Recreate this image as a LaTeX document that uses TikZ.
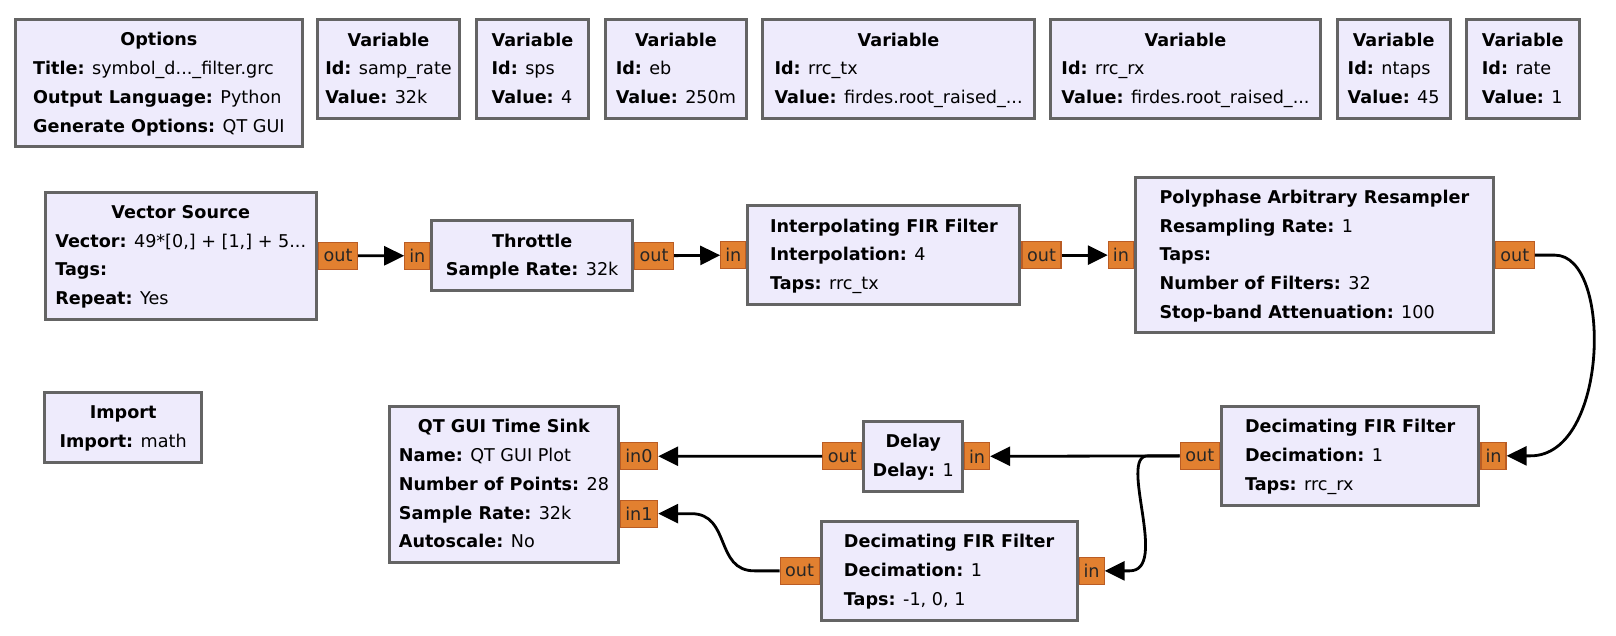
\documentclass[tikz,border=0pt]{standalone}
\usepackage{fontspec}
\setmainfont{DejaVu Sans}
\usetikzlibrary{positioning,arrows.meta}

\definecolor{blockbg}{RGB}{238,235,252}
\definecolor{blockline}{RGB}{100,100,100}
\definecolor{portbg}{RGB}{226,128,48}
\definecolor{portline}{RGB}{186,92,36}

\newcommand{\blk}[2]{\begin{tabular}{@{}l@{}}\multicolumn{1}{@{}c@{}}{\textbf{#1}}\\#2\end{tabular}}
\newcommand{\prm}[2]{\textbf{#1:} #2}

\begin{document}
\begin{tikzpicture}[x=0.5pt,y=-0.5pt,
  font=\fontsize{8.8pt}{14.35pt}\selectfont,
  block/.style={draw=blockline,line width=1.5pt,fill=blockbg,inner sep=0pt,anchor=north west},
  port/.style={draw=portline,line width=0.6pt,fill=portbg,inner sep=0pt,minimum height=13.5pt,text=black!85},
  wire/.style={line width=1.4pt,-{Triangle[length=10pt,width=9.5pt]}}]
  \useasboundingbox (0,0) rectangle (1616,636);

  \node[block,minimum width=143.1pt,minimum height=63.5pt] (opts) at (14.3,18.3)
    {\blk{Options}{\prm{Title}{symbol\_d...\_filter.grc}\\\prm{Output Language}{Python}\\\prm{Generate Options}{QT GUI}}};
  \node[block,minimum width=71pt,minimum height=49.35pt] (vsamp) at (316,18.3)
    {\blk{Variable}{\prm{Id}{samp\_rate}\\\prm{Value}{32k}}};
  \node[block,minimum width=56pt,minimum height=49.35pt] (vsps) at (475,18.3)
    {\blk{Variable}{\prm{Id}{sps}\\\prm{Value}{4}}};
  \node[block,minimum width=70.8pt,minimum height=49.35pt] (veb) at (603.6,18.3)
    {\blk{Variable}{\prm{Id}{eb}\\\prm{Value}{250m}}};
  \node[block,minimum width=135.65pt,minimum height=49.35pt] (vrrctx) at (761.4,18.3)
    {\blk{Variable}{\prm{Id}{rrc\_tx}\\\prm{Value}{firdes.root\_raised\_...}}};
  \node[block,minimum width=135pt,minimum height=49.35pt] (vrrcrx) at (1049,18.3)
    {\blk{Variable}{\prm{Id}{rrc\_rx}\\\prm{Value}{firdes.root\_raised\_...}}};
  \node[block,minimum width=56.45pt,minimum height=49.35pt] (vntaps) at (1335.7,18.3)
    {\blk{Variable}{\prm{Id}{ntaps}\\\prm{Value}{45}}};
  \node[block,minimum width=56.65pt,minimum height=49.35pt] (vrate) at (1464.6,18.3)
    {\blk{Variable}{\prm{Id}{rate}\\\prm{Value}{1}}};

  \node[block,minimum width=135.65pt,minimum height=63.5pt] (vec) at (43.6,190.7)
    {\blk{Vector Source}{\prm{Vector}{49*[0,] + [1,] + 5...}\\\prm{Tags}{}\\\prm{Repeat}{Yes}}};
  \node[block,minimum width=100.3pt,minimum height=35pt] (thr) at (430.4,219.3)
    {\blk{Throttle}{\prm{Sample Rate}{32k}}};
  \node[block,minimum width=136pt,minimum height=49.35pt] (interp) at (746.4,204.3)
    {\blk{Interpolating FIR Filter}{\prm{Interpolation}{4}\\\prm{Taps}{rrc\_tx}}};
  \node[block,minimum width=178.85pt,minimum height=77.65pt] (poly) at (1134,176)
    {\blk{Polyphase Arbitrary Resampler}{\prm{Resampling Rate}{1}\\\prm{Taps}{}\\\prm{Number of Filters}{32}\\\prm{Stop-band Attenuation}{100}}};

  \node[block,minimum width=78.35pt,minimum height=35.3pt] (imp) at (43.3,390.7)
    {\blk{Import}{\prm{Import}{math}}};
  \node[block,minimum width=114.1pt,minimum height=78.15pt] (sink) at (388.4,405)
    {\blk{QT GUI Time Sink}{\prm{Name}{QT GUI Plot}\\\prm{Number of Points}{28}\\\prm{Sample Rate}{32k}\\\prm{Autoscale}{No}}};
  \node[block,minimum width=49.3pt,minimum height=34.85pt] (delay) at (862.4,420)
    {\blk{Delay}{\prm{Delay}{1}}};
  \node[block,minimum width=128.75pt,minimum height=49.35pt] (dec1) at (1219.9,405)
    {\blk{Decimating FIR Filter}{\prm{Decimation}{1}\\\prm{Taps}{rrc\_rx}}};
  \node[block,minimum width=127.9pt,minimum height=49.35pt] (dec2) at (819.7,520)
    {\blk{Decimating FIR Filter}{\prm{Decimation}{1}\\\prm{Taps}{-1, 0, 1}}};

  \node[port,minimum width=19.5pt,right=0pt of vec] (vecout) {out};
  \node[port,minimum width=12.5pt,left=0pt of thr] (thrin) {in};
  \node[port,minimum width=19.5pt,right=0pt of thr] (throut) {out};
  \node[port,minimum width=12.5pt,left=0pt of interp] (interpin) {in};
  \node[port,minimum width=19.5pt,right=0pt of interp] (interpout) {out};
  \node[port,minimum width=12.5pt,left=0pt of poly] (polyin) {in};
  \node[port,minimum width=19.5pt,right=0pt of poly] (polyout) {out};
  \node[port,minimum width=12.5pt,right=0pt of dec1] (dec1in) {in};
  \node[port,minimum width=19.5pt,left=0pt of dec1] (dec1out) {out};
  \node[port,minimum width=12.5pt,right=0pt of delay] (delayin) {in};
  \node[port,minimum width=19.5pt,left=0pt of delay] (delayout) {out};
  \node[port,minimum width=12.5pt,right=0pt of dec2] (dec2in) {in};
  \node[port,minimum width=19.5pt,left=0pt of dec2] (dec2out) {out};
  \node[port,minimum width=18.7pt,anchor=west] (sinkin0) at ([yshift=14.2pt]sink.east) {in0};
  \node[port,minimum width=18.7pt,anchor=west] (sinkin1) at ([yshift=-14.5pt]sink.east) {in1};

  \draw[wire] (vecout) -- (thrin);
  \draw[wire] (throut) -- (interpin);
  \draw[wire] (interpout) -- (polyin);
  \draw[wire] (polyout.east) -- ++(20,0) .. controls +(58,0) and +(78,0) .. ([xshift=12pt]dec1in.east) -- (dec1in.east);
  \draw[wire] (dec1out) -- (delayin);
  \draw[wire] (delayout) -- (sinkin0);
  \draw[wire] (dec1out.west) -- ++(-32,0) .. controls +(-30,0) and +(40,0) .. ([xshift=12.5pt]dec2in.east) -- (dec2in.east);
  \draw[wire] (dec2out.west) -- ++(-25,0) .. controls +(-40,0) and +(40,0) .. ([xshift=16.5pt]sinkin1.east) -- (sinkin1.east);
\end{tikzpicture}
\end{document}
